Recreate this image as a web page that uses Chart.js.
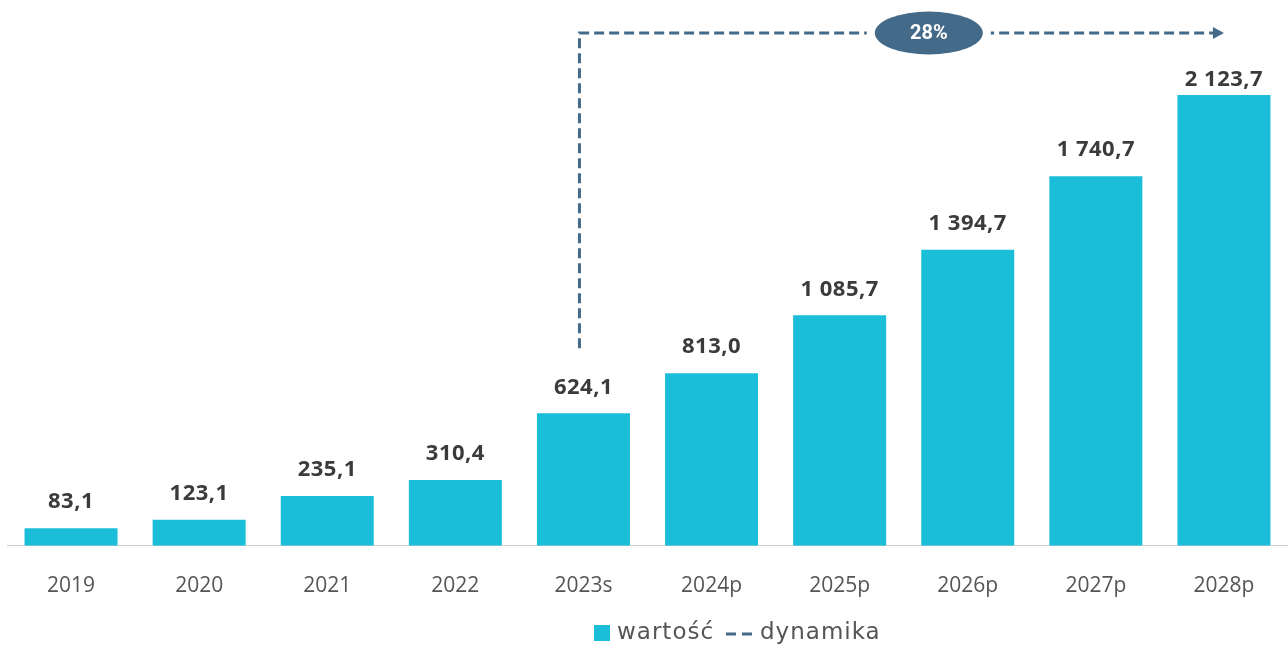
<!DOCTYPE html>
<html>
<head>
<meta charset="utf-8">
<script src="https://cdn.jsdelivr.net/npm/chart.js@4"></script>
<style>
    body { margin: 0; background: #fff; }
    canvas { display: block; }
</style>
</head>
<body>
<canvas id="market-chart" width="1288" height="650"></canvas>
<script>
const years = ['2019', '2020', '2021', '2022', '2023s', '2024p', '2025p', '2026p', '2027p', '2028p']
const values = [83.1, 123.1, 235.1, 310.4, 624.1, 813.0, 1085.7, 1394.7, 1740.7, 2123.7]
const growth = '28%'
const legendLabels = ['wartość', 'dynamika']

const barColor = '#1bbed9'
const arrowColor = '#446a8a'
const textFont = "'Open Sans', sans-serif"

function formatValue(v) {
    let parts = v.toFixed(1).split('.')
    let int = parts[0].replace(/\B(?=(\d{3})+(?!\d))/g, ' ')
    return int + ',' + parts[1]
}

// values over the bars, dashed growth arrow and the legend row
const decorations = {
    id: 'decorations',
    afterDatasetsDraw(chart) {
        const ctx = chart.ctx
        const meta = chart.getDatasetMeta(0)
        const area = chart.chartArea

        ctx.save()
        ctx.fillStyle = '#3b3b3d'
        ctx.font = 'bold 22px ' + textFont
        ctx.letterSpacing = '0.5px'
        ctx.textAlign = 'center'
        ctx.textBaseline = 'middle'
        meta.data.forEach(function (bar, i) {
            let y = Math.max(bar.y - 26, area.top + 65)
            ctx.fillText(formatValue(values[i]), bar.x, y)
        })
        ctx.letterSpacing = '0px'

        // growth arrow from 2023s to 2028p
        const startX = meta.data[4].x - 4
        const endX = meta.data[9].x
        const startY = meta.data[4].y - 65
        const lineY = area.top + 18
        ctx.strokeStyle = arrowColor
        ctx.lineWidth = 3
        ctx.setLineDash([10, 5])
        ctx.beginPath()
        ctx.moveTo(startX, startY)
        ctx.lineTo(startX, lineY)
        ctx.lineTo(endX - 8, lineY)
        ctx.stroke()
        ctx.setLineDash([])
        ctx.fillStyle = arrowColor
        ctx.beginPath()
        ctx.moveTo(endX, lineY)
        ctx.lineTo(endX - 11, lineY - 6)
        ctx.lineTo(endX - 11, lineY + 6)
        ctx.closePath()
        ctx.fill()

        // ellipse with the growth rate
        const cx = (meta.data[7].x + meta.data[8].x) / 2 - 103
        ctx.fillStyle = '#fff'
        ctx.fillRect(cx - 62, lineY - 6, 124, 12)
        ctx.fillStyle = arrowColor
        ctx.beginPath()
        ctx.ellipse(cx, lineY, 54, 21.5, 0, 0, Math.PI * 2)
        ctx.fill()
        ctx.fillStyle = '#fff'
        ctx.font = 'bold 20px Roboto, sans-serif'
        ctx.fillText(growth, cx, lineY + 1)

        // legend
        const ly = 633
        ctx.fillStyle = barColor
        ctx.fillRect(594, ly - 8, 16, 16)
        ctx.fillStyle = '#555'
        ctx.font = '23px "DejaVu Sans", sans-serif'
        ctx.letterSpacing = '1px'
        ctx.textAlign = 'left'
        ctx.fillText(legendLabels[0], 617, ly)
        ctx.strokeStyle = arrowColor
        ctx.lineWidth = 3
        ctx.beginPath()
        ctx.moveTo(726, ly + 1)
        ctx.lineTo(736, ly + 1)
        ctx.moveTo(742, ly + 1)
        ctx.lineTo(752, ly + 1)
        ctx.stroke()
        ctx.fillText(legendLabels[1], 760, ly)
        ctx.restore()
    }
}

const canvas = document.getElementById('market-chart')
const chart = new Chart(canvas, {
    type: 'bar',
    data: {
        labels: years,
        datasets: [{
            label: legendLabels[0],
            data: values,
            backgroundColor: barColor,
            barPercentage: 0.726,
            categoryPercentage: 1
        }]
    },
    options: {
        responsive: false,
        animation: false,
        layout: {
            padding: { left: 7, right: 0, top: 15, bottom: 23 }
        },
        plugins: {
            legend: { display: false },
            tooltip: { enabled: false }
        },
        scales: {
            x: {
                grid: { display: false, drawTicks: false },
                border: { display: true, color: '#cfcfcf', width: 1 },
                ticks: {
                    color: '#555',
                    padding: 28,
                    font: { family: textFont, size: 21 }
                }
            },
            y: {
                display: false,
                min: 0,
                max: 2500
            }
        }
    },
    plugins: [decorations]
})
</script>
</body>
</html>
